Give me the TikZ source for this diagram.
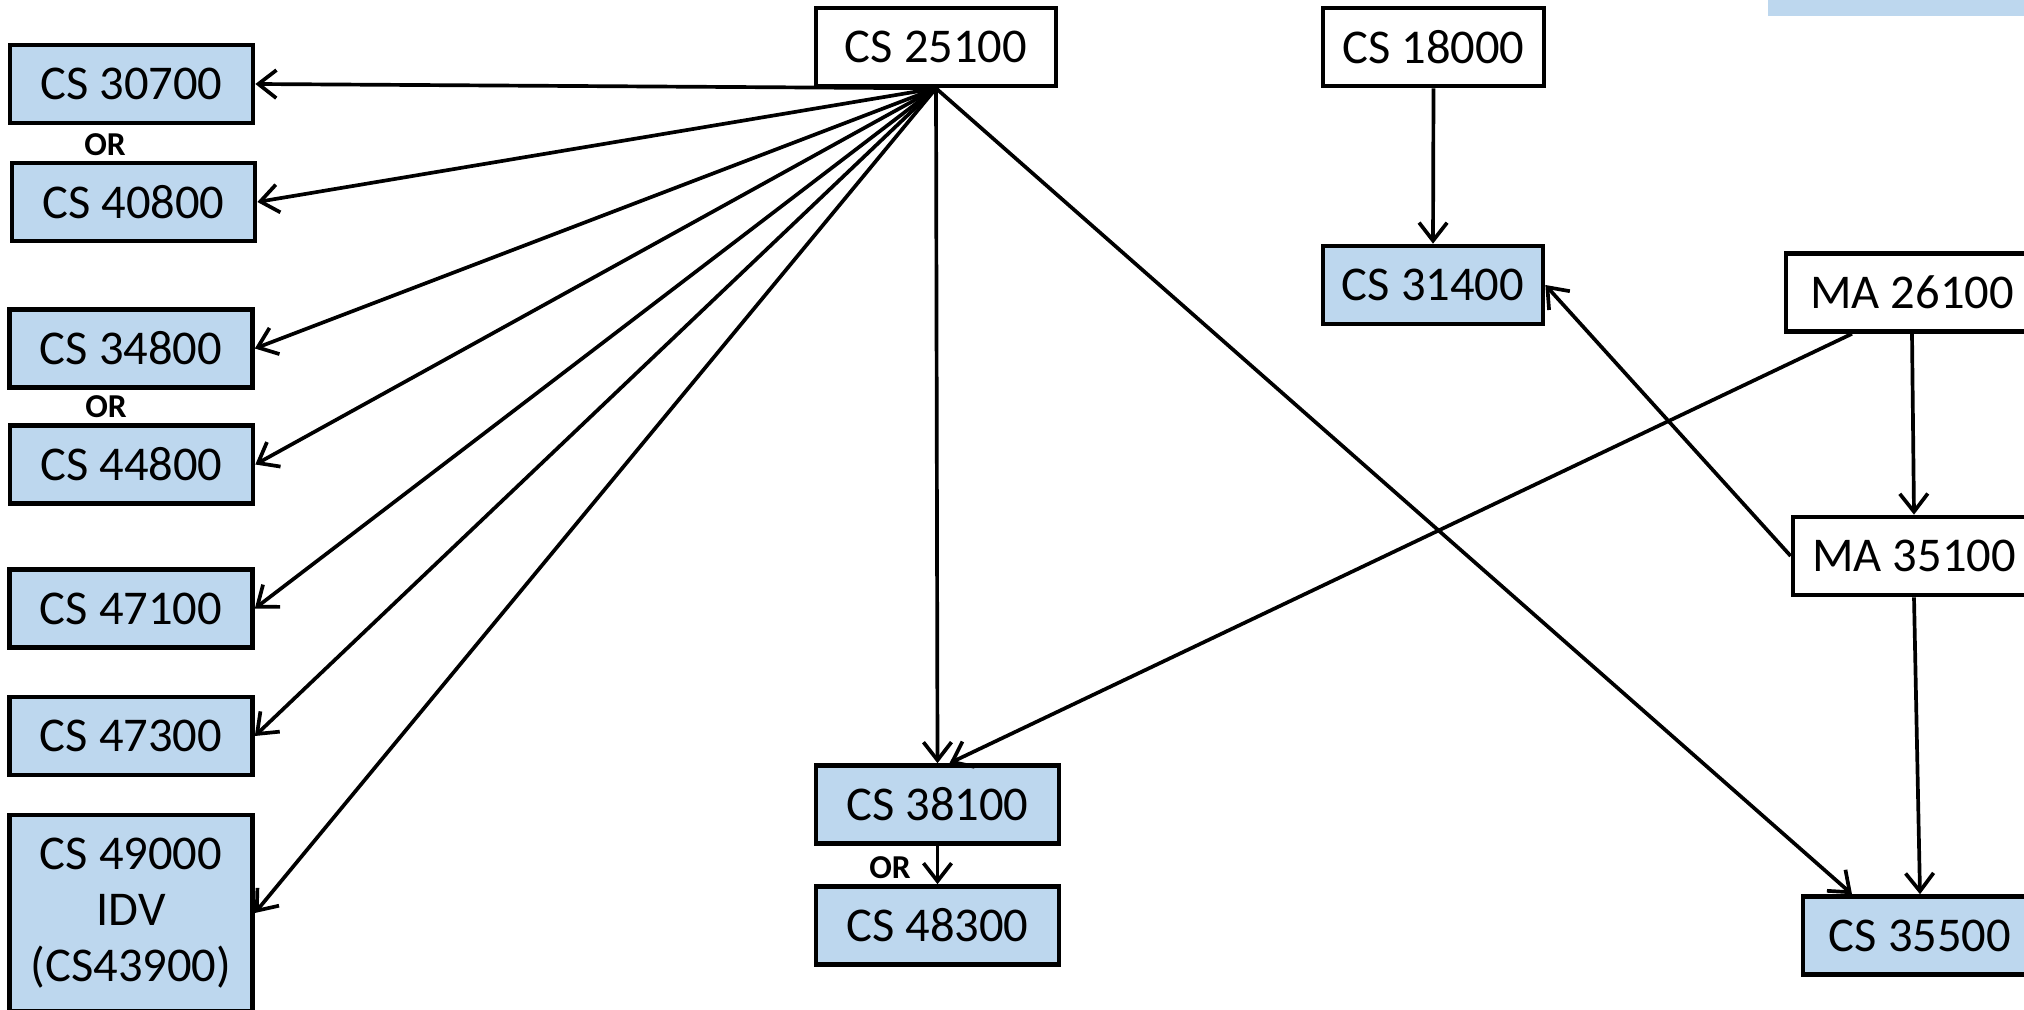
\documentclass[tikz,border=0pt]{standalone}
\usepackage{fontspec}
\setmainfont{Carlito}
\usetikzlibrary{arrows.meta,shapes}
\definecolor{reqblue}{RGB}{189,215,238}
\tikzstyle{course}=[draw,line width=1.3pt,fill=reqblue,minimum width=2.43cm,minimum height=0.78cm,inner sep=0pt,font=\fontsize{13.8}{16}\selectfont]
\tikzstyle{prereq}=[course,fill=white]
\tikzstyle{or label}=[inner sep=0pt,font=\bfseries\fontsize{9.5}{10}\selectfont]
\tikzstyle{edge}=[draw,line width=1.05pt,-{Straight Barb[length=1.8mm,width=2.8mm]}]

\begin{document}
\begin{tikzpicture}[x=0.01cm,y=-0.01cm]
    \useasboundingbox (0,0) rectangle (2024,1010);
    % Legend strip, cut off at the top
    \node[fill=reqblue,minimum width=2.6cm,minimum height=0.6cm,inner sep=0pt] (legend) at (1898,-14) {};

    % Courses that need CS 25100
    \foreach \pos/\name/\code in {{(131.5,84)/c307/CS 30700}, {(133.5,202)/c408/CS 40800}, {(131,348.5)/c348/CS 34800}, {(131.5,464.5)/c448/CS 44800}, {(131,608.5)/c471/CS 47100}, {(131,736)/c473/CS 47300}, {(937.5,804.5)/c381/CS 38100}, {(937.5,925.5)/c483/CS 48300}}
        \node[course] (\name) at \pos {\code};
    \node[course,minimum height=1.96cm,align=center] (c490) at (131,913) {CS 49000\\IDV\\(CS43900)};
    \node[course,minimum width=2.2cm] (c314) at (1433,285) {CS 31400};
    \node[course,minimum width=2.34cm] (c355) at (1920,935.5) {CS 35500};

    % Prerequisites
    \node[prereq,minimum width=2.4cm] (c251) at (936,47) {CS 25100};
    \node[prereq,minimum width=2.21cm] (c180) at (1433.5,47) {CS 18000};
    \node[prereq,minimum width=2.52cm] (ma261) at (1912,292.5) {MA 26100};
    \node[prereq,minimum width=2.42cm] (ma351) at (1914,556) {MA 35100};

    % OR labels
    \node[or label] (or1) at (105,145) {OR};
    \node[or label] (or2) at (106,407) {OR};
    \node[or label] (or3) at (890,868) {OR};

    % Connect courses with edges
    \foreach \dest in {c307,c408,c348,c448,c471,c473,c490}
        \path[edge] (c251.south) -- (\dest.east);
    \path[edge] (c251.south) -- (c381.north);
    \path[edge] (c251.south) -- ([xshift=-0.68cm]c355.north);
    \path[edge] (c180.south) -- (c314.north);
    \path[edge] ([xshift=-0.6cm]ma261.south) -- ([xshift=0.12cm]c381.north);
    \path[edge] (ma261.south) -- (ma351.north);
    \path[edge] (ma351.west) -- (c314.east);
    \path[edge] (ma351.south) -- (c355.north);
    \path[edge] (c381.south) -- (c483.north);
\end{tikzpicture}
\end{document}
